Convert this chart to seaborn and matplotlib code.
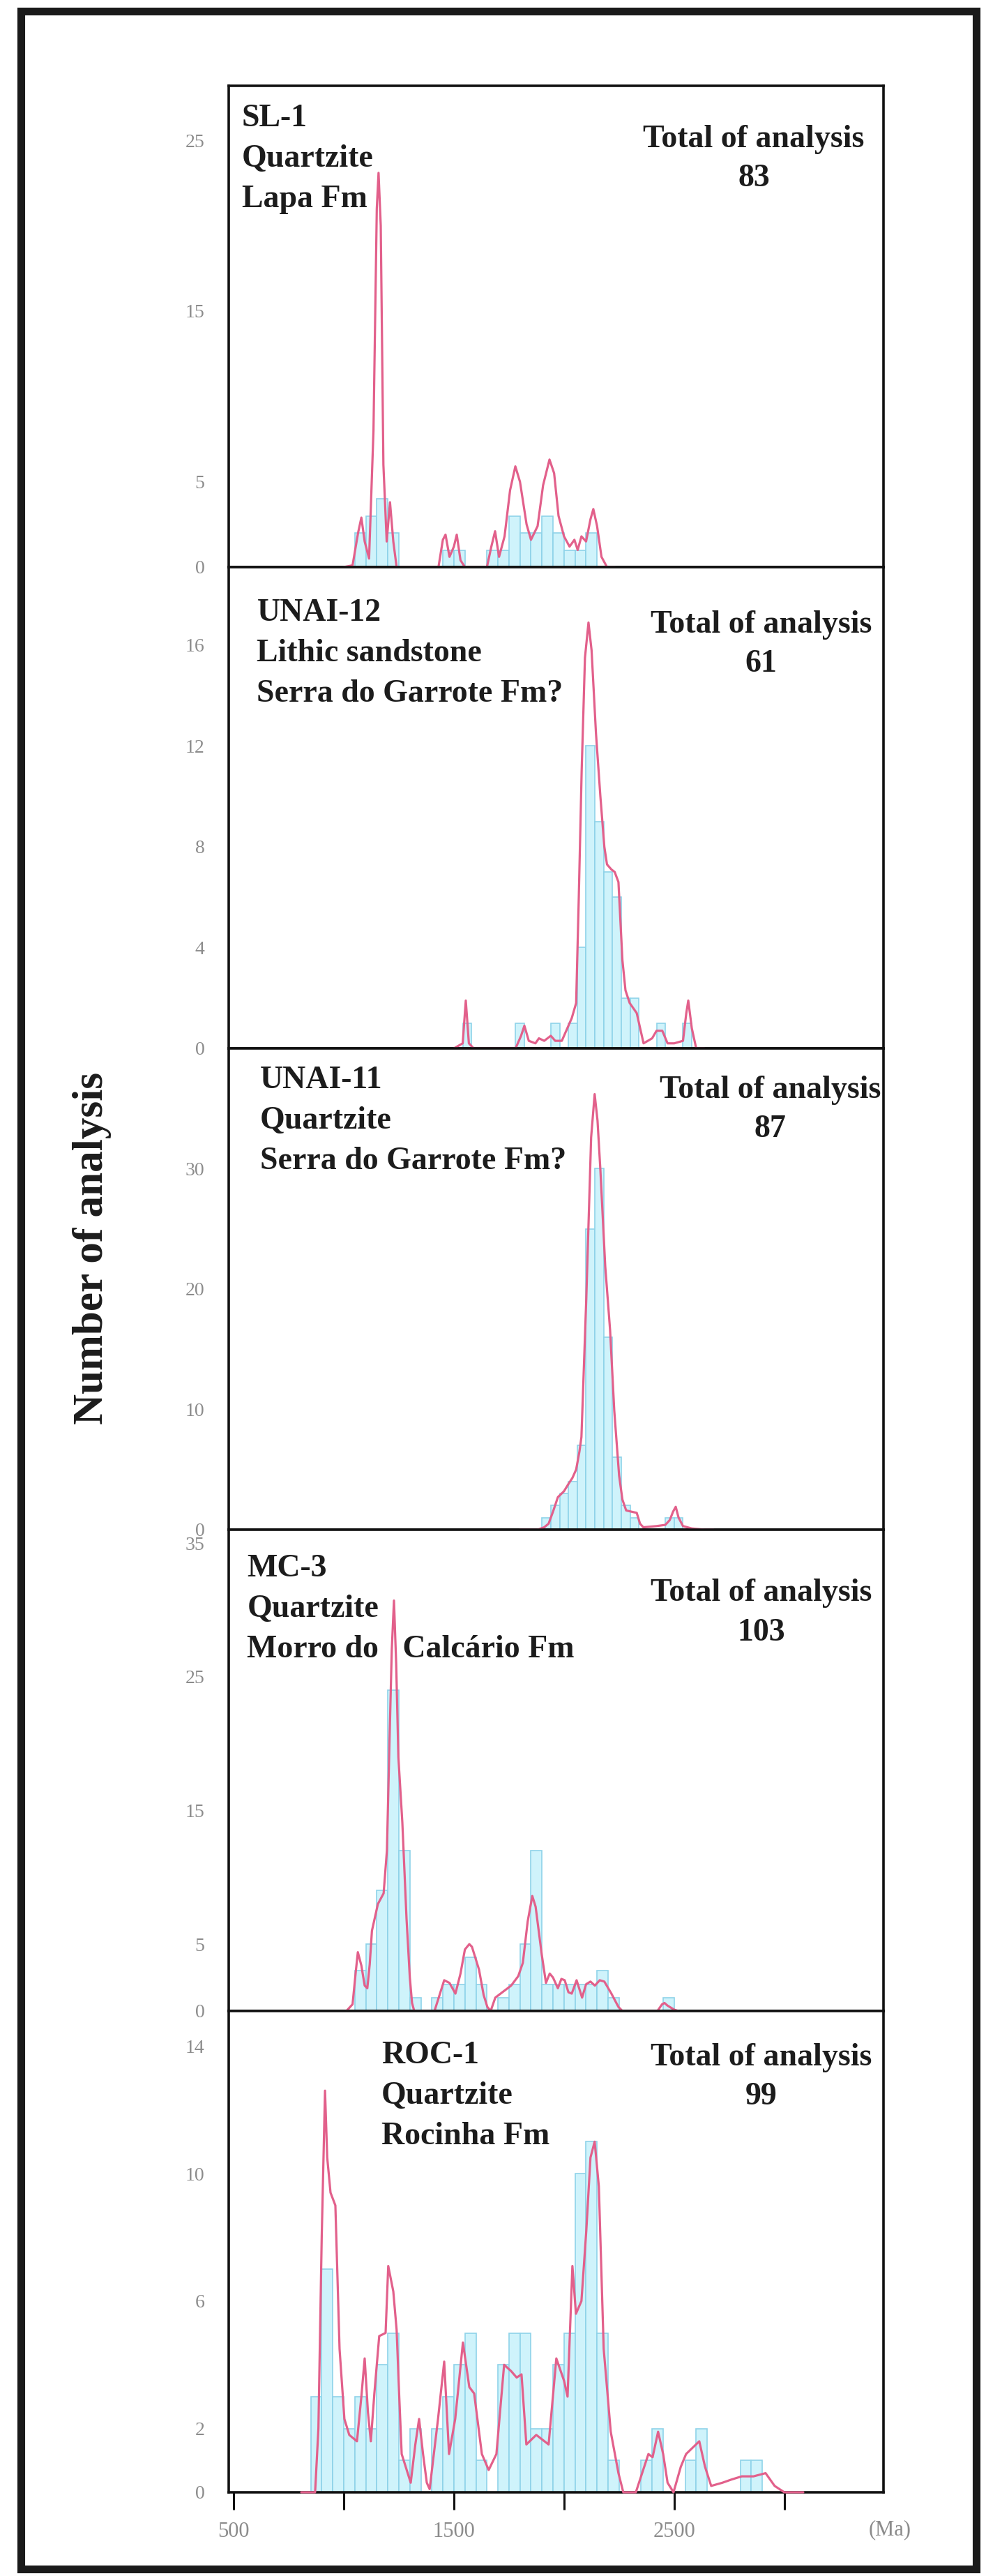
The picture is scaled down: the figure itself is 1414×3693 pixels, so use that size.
import numpy as np
import seaborn as sns
import matplotlib.pyplot as plt
from matplotlib.patches import Rectangle

# ---- SL-1 ----
sl1_names = ["SL-1", "Quartzite", "Lapa Fm"]
sl1_total = 83
sl1_age = [1000, 1040, 1065, 1080, 1095, 1115, 1135, 1150, 1158, 1168, 1180, 1195, 1210, 1225, 1240,
           1430, 1450, 1462, 1480, 1500, 1513, 1530, 1550, 1650, 1670, 1687, 1705, 1730, 1755, 1779,
           1800, 1830, 1850, 1880, 1905, 1934, 1955, 1975, 2000, 2025, 2047, 2062, 2079, 2100, 2120,
           2133, 2150, 2170, 2195, 2230]
sl1_prob = [0, 0.1, 2.0, 2.9, 1.5, 0.5, 8, 21, 23.1, 20, 6, 1.5, 3.8, 1.5, 0,
            0, 1.6, 1.9, 0.6, 1.2, 1.9, 0.4, 0, 0, 1.2, 2.1, 0.6, 1.8, 4.5, 5.9,
            5.0, 2.5, 1.6, 2.4, 4.8, 6.3, 5.5, 3.0, 1.8, 1.2, 1.6, 1.0, 1.8, 1.5, 2.8,
            3.4, 2.4, 0.6, 0, 0]
sl1_bin_start, sl1_bin_width = 1050, 50
sl1_counts = [2, 3, 4, 2, 0, 0, 0, 0, 1, 1, 0, 0, 1, 1, 3, 2, 2, 3, 2, 1, 1, 2]

# ---- UNAI-12 ----
u12_names = ["UNAI-12", "Lithic sandstone", "Serra do Garrote Fm?"]
u12_total = 61
u12_age = [1500, 1540, 1554, 1568, 1590, 1780, 1805, 1820, 1840, 1870, 1886, 1910, 1940, 1960, 1990,
           2035, 2055, 2067, 2080, 2095, 2111, 2125, 2145, 2165, 2183, 2195, 2215, 2230, 2247, 2265,
           2279, 2298, 2330, 2361, 2400, 2420, 2446, 2470, 2500, 2540, 2555, 2564, 2580, 2600, 2636]
u12_prob = [0, 0.2, 1.9, 0.2, 0, 0, 0.5, 0.9, 0.3, 0.2, 0.4, 0.3, 0.5, 0.3, 0.3,
            1.2, 1.8, 6.0, 11.0, 15.5, 16.9, 15.8, 12.5, 10.0, 8.0, 7.3, 7.1, 7.0, 6.6, 3.5,
            2.3, 1.8, 1.4, 0.2, 0.4, 0.7, 0.7, 0.2, 0.2, 0.3, 1.4, 1.9, 0.8, 0, 0]
u12_bin_start, u12_bin_width = 1540, 40
u12_counts = [1, 0, 0, 0, 0, 0, 1, 0, 0, 0, 1, 0, 1, 4, 12, 9, 7, 6, 2, 2, 0, 0, 1, 0, 0, 1]

# ---- UNAI-11 ----
u11_names = ["UNAI-11", "Quartzite", "Serra do Garrote Fm?"]
u11_total = 87
u11_age = [1800, 1880, 1910, 1930, 1950, 1972, 2000, 2020, 2038, 2055, 2070, 2079, 2101, 2123, 2139,
           2152, 2165, 2187, 2209, 2228, 2250, 2265, 2282, 2305, 2330, 2345, 2360, 2420, 2460, 2480,
           2495, 2507, 2520, 2540, 2580, 2640, 2678]
u11_prob = [0, 0, 0.2, 0.5, 1.5, 2.7, 3.2, 3.8, 4.3, 5.0, 6.5, 7.7, 19.2, 32.6, 36.2,
            34, 29.9, 21.9, 16.6, 9.9, 4.5, 2.5, 1.6, 1.5, 1.4, 0.5, 0.2, 0.3, 0.4, 0.8,
            1.5, 1.9, 1.0, 0.3, 0.1, 0, 0]
u11_bin_start, u11_bin_width = 1900, 40
u11_counts = [1, 2, 3, 4, 7, 25, 30, 16, 6, 2, 1, 0, 0, 0, 1, 1]

# ---- MC-3 ----
mc3_names = ["MC-3", "Quartzite", "Morro do   Calcário Fm"]
mc3_total = 103
mc3_age = [1012, 1040, 1055, 1064, 1080, 1095, 1107, 1118, 1128, 1155, 1181, 1196, 1206, 1218, 1228,
           1238, 1248, 1266, 1285, 1300, 1310, 1320, 1412, 1435, 1456, 1480, 1507, 1530, 1550, 1570,
           1582, 1614, 1635, 1652, 1667, 1688, 1720, 1760, 1792, 1813, 1835, 1856, 1871, 1899, 1918,
           1935, 1950, 1972, 1988, 2003, 2020, 2035, 2057, 2082, 2100, 2120, 2140, 2162, 2183, 2215,
           2247, 2265, 2424, 2445, 2456, 2470, 2500, 2519]
mc3_prob = [0, 0.5, 3.0, 4.4, 3.4, 1.9, 1.7, 3.5, 6.0, 8.0, 8.8, 12, 19, 27, 30.7,
            26, 19, 14.1, 6.9, 2.5, 0.6, 0, 0, 1.2, 2.3, 2.1, 1.3, 2.8, 4.6, 5.0,
            4.8, 3.1, 1.2, 0.3, 0, 1.0, 1.4, 1.9, 2.6, 3.6, 6.7, 8.6, 7.8, 4.2, 2.1,
            2.8, 2.5, 1.7, 2.4, 2.3, 1.4, 1.3, 2.3, 1.0, 2.0, 2.2, 1.9, 2.3, 2.2, 1.3,
            0.3, 0, 0, 0.5, 0.6, 0.4, 0.1, 0]
mc3_bin_start, mc3_bin_width = 1050, 50
mc3_counts = [3, 5, 9, 24, 12, 1, 0, 1, 2, 2, 4, 2, 0, 1, 2, 5, 12, 2, 2, 2, 2, 2, 3, 1, 0, 0, 0, 0, 1]

# ---- ROC-1 ----
roc_names = ["ROC-1", "Quartzite", "Rocinha Fm"]
roc_total = 99
roc_age = [807, 870, 885, 900, 915, 925, 940, 962, 981, 1003, 1025, 1060, 1080, 1095, 1110,
           1123, 1139, 1161, 1190, 1202, 1225, 1240, 1252, 1263, 1304, 1325, 1342, 1360, 1377, 1390,
           1428, 1456, 1478, 1506, 1541, 1570, 1592, 1627, 1658, 1693, 1728, 1760, 1785, 1807, 1829,
           1874, 1930, 1965, 2000, 2016, 2038, 2054, 2079, 2101, 2120, 2139, 2158, 2180, 2212, 2247,
           2269, 2326, 2383, 2402, 2427, 2450, 2470, 2497, 2530, 2554, 2614, 2640, 2668, 2719, 2760,
           2807, 2860, 2915, 2956, 3000, 3086]
roc_prob = [0, 0, 2, 8, 12.6, 10.5, 9.4, 9.0, 4.5, 2.3, 1.8, 1.6, 3.0, 4.2, 2.5,
            1.6, 3.1, 4.9, 5.0, 7.1, 6.3, 5.1, 3.0, 1.2, 0.3, 1.5, 2.3, 1.2, 0.3, 0.1,
            2.3, 4.1, 1.2, 2.3, 4.7, 3.3, 3.1, 1.2, 0.7, 1.2, 4.0, 3.8, 3.6, 3.7, 1.5,
            1.8, 1.5, 4.2, 3.5, 3.0, 7.1, 5.6, 6.0, 8.2, 10.5, 11.0, 9.6, 4.5, 1.9, 0.6,
            0, 0, 1.2, 1.1, 1.9, 1.2, 0.3, 0, 0.8, 1.2, 1.6, 0.8, 0.2, 0.3, 0.4,
            0.5, 0.5, 0.6, 0.2, 0, 0]
roc_bin_start, roc_bin_width = 850, 50
roc_counts = [3, 7, 3, 2, 3, 2, 4, 5, 1, 2, 0, 2, 3, 4, 5, 1, 0, 4, 5, 5,
              2, 2, 4, 5, 10, 11, 5, 1, 0, 0, 1, 2, 0, 0, 1, 2, 0, 0, 0, 1, 1]

# axis tick setup per panel
y_ticks = [[0, 5, 10, 15, 20, 25],
           [0, 2, 4, 6, 8, 10, 12, 14, 16],
           [0, 5, 10, 15, 20, 25, 30, 35],
           [0, 5, 10, 15, 20, 25, 30, 35],
           [0, 2, 4, 6, 8, 10, 12, 14]]
y_labels = [["0", "5", "", "15", "", "25"],
            ["0", "", "4", "", "8", "", "12", "", "16"],
            ["0", "", "10", "", "20", "", "30", ""],
            ["0", "5", "", "15", "", "25", "", "35"],
            ["0", "2", "", "6", "", "10", "", "14"]]
y_max = [28.2, 19.1, 40, 36, 15.1]
x_ticks = [500, 1000, 1500, 2000, 2500, 3000]
x_labels = ["500", "", "1500", "", "2500", ""]

panels = [
    (sl1_names, sl1_total, sl1_age, sl1_prob, sl1_bin_start, sl1_bin_width, sl1_counts),
    (u12_names, u12_total, u12_age, u12_prob, u12_bin_start, u12_bin_width, u12_counts),
    (u11_names, u11_total, u11_age, u11_prob, u11_bin_start, u11_bin_width, u11_counts),
    (mc3_names, mc3_total, mc3_age, mc3_prob, mc3_bin_start, mc3_bin_width, mc3_counts),
    (roc_names, roc_total, roc_age, roc_prob, roc_bin_start, roc_bin_width, roc_counts),
]
# text anchor spots (axes fraction)
name_pos = [(0.020, 0.963), (0.043, 0.935), (0.048, 0.964), (0.028, 0.949), (0.233, 0.938)]
total_pos = [(0.802, 0.919), (0.813, 0.910), (0.827, 0.944), (0.813, 0.898), (0.813, 0.934)]

sns.set_style("white")
plt.rcParams['font.family'] = ['Liberation Serif', 'DejaVu Serif']

curve_col = "#e2608b"
bar_fill = "#cff3fb"
bar_edge = "#8fd3e9"
text_col = "#1c1c1c"
tick_col = "#8c8c8c"

fig, axes = plt.subplots(5, 1, figsize=(14.14, 36.93), dpi=100, sharex=True,
                         gridspec_kw=dict(hspace=0))
fig.subplots_adjust(left=0.232, right=0.896, top=0.9667, bottom=0.0325)

for i, (ax, p) in enumerate(zip(axes, panels)):
    names, total, age, prob, b0, bw, counts = p
    n = len(counts)
    edges = [b0 + bw * k for k in range(n + 1)]
    centers = [b0 + bw * (k + 0.5) for k in range(n)]
    sns.histplot(x=centers, weights=counts, bins=edges, ax=ax, color=bar_fill,
                 edgecolor=bar_edge, linewidth=1.2, alpha=1, zorder=1)
    sns.lineplot(x=age, y=prob, ax=ax, color=curve_col, lw=2.3, estimator=None,
                 zorder=4, clip_on=False)
    ax.set_xlim(478, 3450)
    ax.set_ylim(0, y_max[i])
    ax.set_xlabel("")
    ax.set_ylabel("")
    ax.set_yticks(y_ticks[i])
    ax.set_yticklabels(y_labels[i])
    for s in ax.spines.values():
        s.set_linewidth(2.6)
        s.set_color("#111111")
    ax.tick_params(axis="y", direction="out", length=16, width=2.2, pad=9,
                   labelsize=20, labelcolor=tick_col, color="#111111")
    ax.tick_params(axis="x", bottom=False)
    ax.text(name_pos[i][0], name_pos[i][1], "\n".join(names), transform=ax.transAxes,
            ha="left", va="top", fontsize=33, fontweight="bold", color=text_col,
            linespacing=1.5, zorder=5)
    ax.text(total_pos[i][0], total_pos[i][1], "Total of analysis\n" + str(total),
            transform=ax.transAxes, ha="center", va="top", fontsize=33,
            fontweight="bold", color=text_col, linespacing=1.45, zorder=5)

ax = axes[-1]
ax.set_xticks(x_ticks)
ax.set_xticklabels(x_labels)
ax.tick_params(axis="x", bottom=True, direction="out", length=18, width=2.2, pad=12,
               labelsize=22, labelcolor=tick_col, color="#111111")

fig.text(1276 / 1414, 1 - 3627 / 3693, "(Ma)", ha="center", va="center",
         fontsize=22, color=tick_col)
fig.text(132 / 1414, 1 - 1789 / 3693, "Number of analysis", rotation=90,
         ha="center", va="center", fontsize=44, fontweight="bold", color=text_col)

frame = Rectangle((30 / 1414, 1 - 3683 / 3693), 1370 / 1414, 3667 / 3693,
                  transform=fig.transFigure, fill=False, lw=8, edgecolor="#1a1a1a")
fig.add_artist(frame)

fig.savefig("out.png", dpi=100)
